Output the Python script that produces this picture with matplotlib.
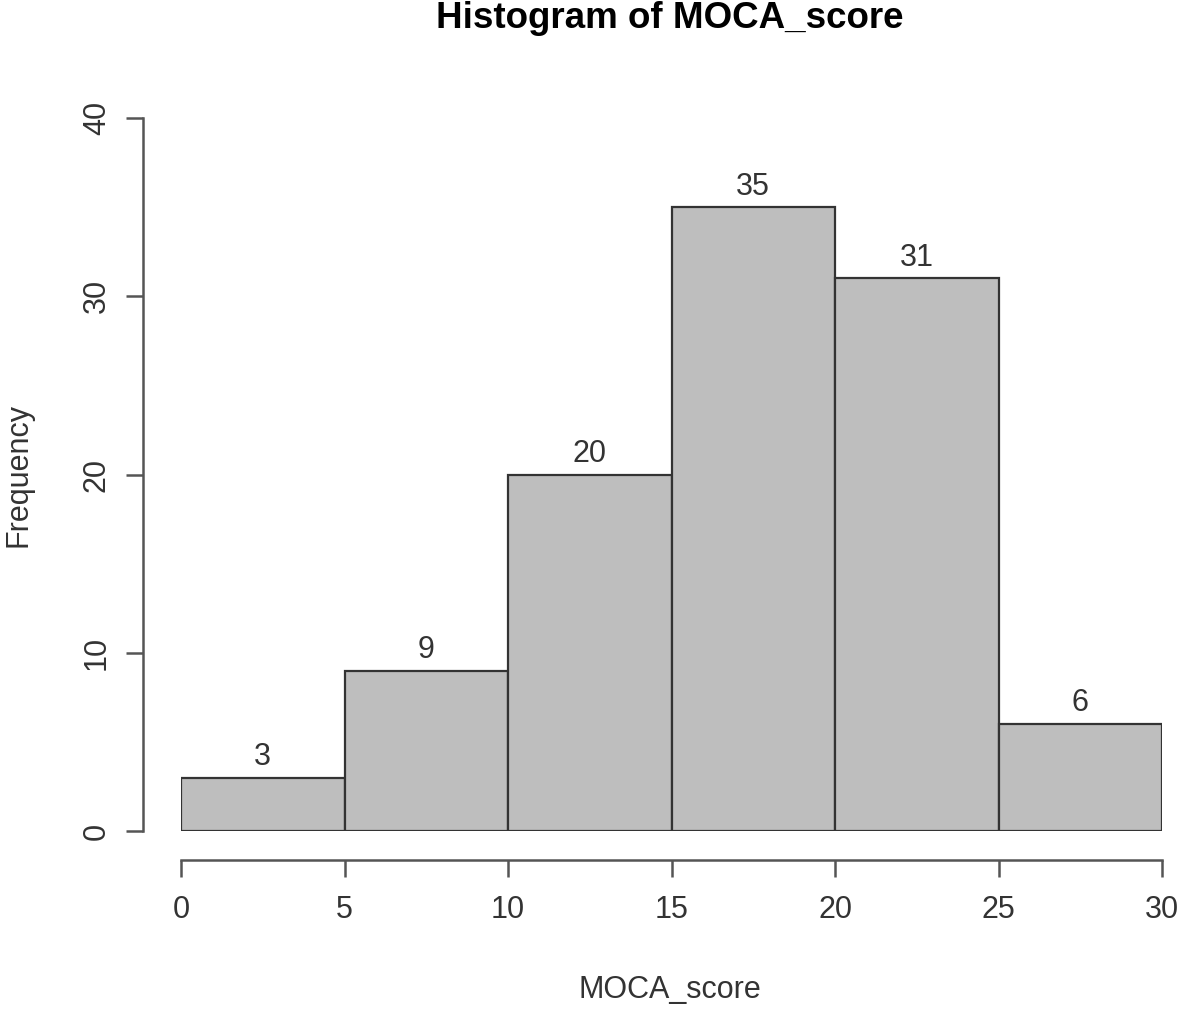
import numpy as np
import matplotlib.pyplot as plt

plt.rcParams['font.family'] = ['Liberation Sans', 'DejaVu Sans']

# histogram bins and counts
bin_edges = [0, 5, 10, 15, 20, 25, 30]
counts = [3, 9, 20, 35, 31, 6]
x_ticks = [0, 5, 10, 15, 20, 25, 30]
y_ticks = [0, 10, 20, 30, 40]

W, H = 1180, 1010
PT = 100 / 72  # px per point
fig = plt.figure(figsize=(W / 100, H / 100), dpi=100)
ax = fig.add_axes([181 / W, 179 / H, (1162 - 181) / W, (831 - 118) / H])

txt = '#333333'
axc = '#555555'
fs = 22

lefts = bin_edges[:-1]
widths = np.diff(bin_edges)
ax.bar(lefts, counts, width=widths, align='edge', color='#bebebe',
       edgecolor='#333333', linewidth=1.6)
for l, w, c in zip(lefts, widths, counts):
    ax.annotate(str(c), (l + w / 2, c), xytext=(0, 4), textcoords='offset points',
                ha='center', va='bottom', fontsize=fs, color=txt)

ax.set_xlim(0, 30)
ax.set_ylim(0, 40)
ax.set_xticks(x_ticks)
ax.set_yticks(y_ticks)

for s in ['top', 'right']:
    ax.spines[s].set_visible(False)
ax.spines['left'].set_position(('outward', 38 / PT))
ax.spines['bottom'].set_position(('outward', 29 / PT))
for s in ['left', 'bottom']:
    ax.spines[s].set_color(axc)
    ax.spines[s].set_linewidth(1.8)
ax.tick_params(axis='both', length=12.5, width=1.8, color=axc, labelsize=fs,
               labelcolor=txt)
ax.tick_params(axis='y', pad=10, labelrotation=90)
for lab in ax.get_yticklabels():
    lab.set_va('center')
ax.tick_params(axis='x', pad=13)

fig.text(670 / W, 1 - 18 / H, 'Histogram of MOCA_score', ha='center', va='center',
         fontsize=26.5, fontweight='bold', color='black')
fig.text(670 / W, 1 - 990 / H, 'MOCA_score', ha='center', va='center',
         fontsize=fs, color=txt)
fig.text(18 / W, 1 - 475 / H, 'Frequency', ha='center', va='center',
         rotation=90, fontsize=fs, color=txt)

fig.savefig('out.png', dpi=100)
